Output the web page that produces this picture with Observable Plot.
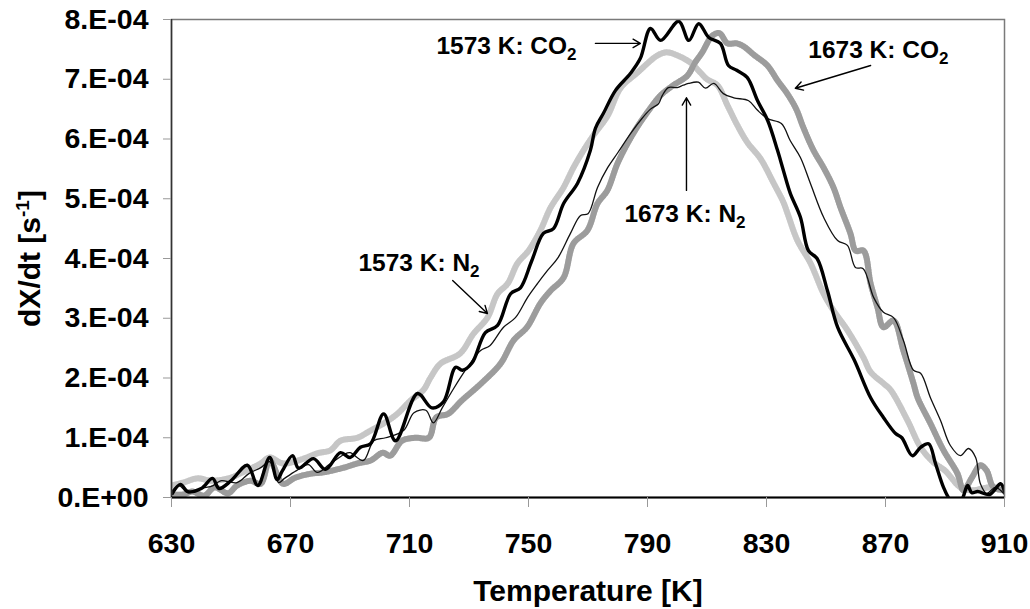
<!DOCTYPE html>
<html>
<head>
<meta charset="utf-8">
<script src="https://cdn.jsdelivr.net/npm/d3@7"></script>
<script src="https://cdn.jsdelivr.net/npm/@observablehq/plot@0.6"></script>
<style>
  html, body { margin: 0; padding: 0; background: #fff; }
  #chart { width: 1030px; height: 609px; }
</style>
</head>
<body>
<div id="chart"></div>
<script>
// Conversion-rate curves dX/dt, values given in units of 1e-4 s^-1.

// 1573 K char, CO2 atmosphere
const co2_1573_T = [630.3, 633, 635.5, 640, 643.8, 646, 650, 655.5, 659, 663, 665.5, 667.3, 670.7, 672.7, 677.7, 681.8, 686.8, 690, 693.5, 696.9, 701.3, 705.3, 712.7, 717.5, 721.4, 725.5, 727.8, 731, 735.5, 739.6, 744, 747.3, 751, 755, 758.4, 761.8, 766.5, 770.8, 772.5, 775.2, 779.2, 784.3, 787.6, 791, 794.4, 800.5, 803.9, 807.2, 810.6, 814.5, 817.2, 820, 823.5, 827, 830.4, 833.7, 835.7, 838, 841.4, 844.1, 847, 850.5, 853.9, 859.5, 865, 869.3, 873.4, 875.5, 879, 881.8, 884.5, 886.8, 889.5, 891.8, 894, 896, 897.6, 899, 901, 905, 908.7, 910];
const co2_1573_rate = [0.07, 0.22, 0.1, 0.15, 0.32, 0.15, 0.28, 0.54, 0.2, 0.67, 0.3, 0.45, 0.7, 0.49, 0.65, 0.47, 0.75, 0.67, 0.84, 0.9, 1.4, 0.95, 1.74, 1.5, 1.6, 2.18, 2.13, 2.25, 2.76, 2.88, 3.41, 3.51, 3.95, 4.42, 4.5, 4.92, 5.26, 5.81, 6.18, 6.43, 6.81, 7.1, 7.35, 7.85, 7.65, 7.97, 7.65, 7.93, 7.7, 7.6, 7.23, 7.15, 7.03, 6.64, 6.31, 5.81, 5.47, 5.09, 4.69, 4.13, 4.0, 3.46, 2.85, 2.3, 1.67, 1.34, 1.07, 1.0, 0.7, 0.84, 0.9, 0.57, 0.17, -0.05, -0.15, 0.0, 0.2, 0.08, 0.1, 0.05, 0.23, 0.1];

// 1573 K char, N2 atmosphere
const n2_1573_T = [630, 634, 638.7, 643.5, 649.8, 653, 660, 663, 667.5, 674.4, 679, 683.4, 686.8, 692.5, 696.9, 701.3, 705.9, 710.3, 714.7, 717, 720.4, 727, 731.5, 736.2, 739.6, 743, 746.3, 750, 754, 757.4, 761.8, 765.1, 768.5, 771.8, 776.6, 780.9, 786.6, 793.4, 796.5, 800, 804.4, 807.8, 810, 813.5, 816.9, 820.2, 823.6, 828, 832.3, 835.7, 837.1, 840.4, 844.8, 849.2, 852.5, 857.2, 862.6, 865, 869.3, 871.7, 877.4, 881.8, 886.1, 890, 895.2, 899, 905, 910];
const n2_1573_rate = [0.2, 0.25, 0.32, 0.28, 0.33, 0.4, 0.57, 0.67, 0.57, 0.65, 0.74, 0.79, 0.95, 1.0, 1.12, 1.24, 1.4, 1.62, 1.8, 2.0, 2.24, 2.41, 2.74, 3.01, 3.41, 3.58, 3.92, 4.13, 4.47, 4.85, 5.19, 5.52, 5.81, 6.06, 6.39, 6.85, 7.11, 7.4, 7.45, 7.4, 7.28, 7.11, 7.0, 6.9, 6.56, 6.23, 5.94, 5.67, 5.27, 4.94, 4.75, 4.3, 3.92, 3.41, 3.13, 2.8, 2.34, 2.1, 1.91, 1.8, 1.29, 0.84, 0.59, 0.45, 0.17, 0.12, 0.17, 0.15];

// 1673 K char, CO2 atmosphere
const co2_1673_T = [630, 634, 637, 641, 644.5, 649, 652, 656.5, 660, 663, 667.5, 671.5, 677, 681, 688, 692.5, 697, 701, 703.5, 707.5, 712, 716.5, 719, 723, 727.5, 733.9, 740.6, 745, 749.5, 754, 757.4, 761.8, 765.1, 769.8, 773.2, 776.5, 780, 785.3, 790, 794.4, 798.7, 803.4, 806, 808.4, 811.8, 814.2, 816.9, 820, 822.3, 826, 830.3, 833.7, 837.1, 840, 842.4, 845.8, 849.2, 852.5, 854.9, 858.2, 860, 862.6, 865, 867.3, 869.3, 872.7, 876, 879.4, 880.8, 885.1, 889.5, 894.2, 896.2, 899, 901.9, 904, 906.3, 910];
const co2_1673_rate = [0.05, 0.05, 0.1, 0.03, 0.17, 0.07, 0.2, 0.28, 0.23, 0.62, 0.23, 0.33, 0.4, 0.42, 0.5, 0.57, 0.62, 0.75, 0.7, 0.95, 1.0, 1.0, 1.34, 1.4, 1.62, 1.9, 2.24, 2.63, 2.85, 3.25, 3.46, 3.68, 4.25, 4.47, 4.92, 5.14, 5.6, 6.1, 6.45, 6.73, 6.9, 7.06, 7.28, 7.45, 7.73, 7.77, 7.6, 7.6, 7.55, 7.4, 7.23, 6.98, 6.75, 6.5, 6.19, 5.81, 5.52, 5.19, 4.85, 4.42, 4.13, 4.13, 3.58, 3.18, 2.85, 2.96, 2.46, 1.91, 1.67, 1.24, 0.79, 0.4, 0.12, 0.33, 0.54, 0.45, 0.17, 0.12];

// 1673 K char, N2 atmosphere
const n2_1673_T = [630, 632.5, 635.5, 640, 644, 646.5, 652, 656, 660, 663, 666, 668, 672, 676, 679, 683, 688, 690, 694.5, 698, 702, 708, 711.5, 715.5, 718, 721, 724.8, 729.5, 733.9, 737, 741.6, 745.6, 749.7, 753, 756.4, 760, 764.1, 767.5, 770, 773.2, 776.6, 780, 784.3, 787.6, 791, 793.7, 795, 797, 800, 802, 803.8, 807.1, 809.5, 812.3, 815.5, 819, 824, 827, 830.4, 835, 838, 841.4, 844.8, 849.2, 853.9, 857.2, 859.9, 862.5, 866, 869.3, 872.7, 876, 879.4, 881.8, 885.1, 888.5, 891.8, 895.2, 897.9, 900.3, 901.9, 904, 907, 910];
const n2_1673_rate = [0.1, 0.2, 0.08, 0.15, 0.2, 0.28, 0.25, 0.4, 0.5, 0.6, 0.25, 0.32, 0.45, 0.55, 0.42, 0.55, 0.72, 0.75, 0.62, 0.95, 1.0, 1.12, 1.42, 1.46, 1.25, 1.5, 1.82, 2.18, 2.46, 2.54, 2.85, 3.01, 3.35, 3.58, 3.8, 4.02, 4.42, 4.72, 4.75, 5.19, 5.52, 5.77, 6.09, 6.31, 6.5, 6.59, 6.73, 6.86, 6.86, 6.9, 6.93, 6.95, 6.85, 6.93, 6.76, 6.69, 6.64, 6.48, 6.34, 6.26, 5.97, 5.69, 5.25, 4.69, 4.3, 4.22, 3.85, 3.83, 3.35, 3.1, 3.01, 2.63, 2.13, 2.08, 1.67, 1.29, 0.87, 0.7, 0.82, 0.67, 0.23, 0.07, 0.17, 0.05];

// Axis ticks
const xTicks = [630, 670, 710, 750, 790, 830, 870, 910];
const yTicks = [0, 1e-4, 2e-4, 3e-4, 4e-4, 5e-4, 6e-4, 7e-4, 8e-4];
const yTickLabels = ["0.E+00", "1.E-04", "2.E-04", "3.E-04", "4.E-04", "5.E-04", "6.E-04", "7.E-04", "8.E-04"];

// Curve callouts (label centre and arrow in data units, rate in 1e-4 s^-1)
const calloutLabels = ["1573 K: CO2", "1673 K: CO2", "1673 K: N2", "1573 K: N2"];
const calloutTextT = [742.6, 867.6, 802.6, 713.2];
const calloutTextRate = [7.56, 7.48, 4.75, 3.92];
const arrowFromT = [772.5, 865, 803.1, 724.5];
const arrowFromRate = [7.6, 7.23, 5.14, 3.63];
const arrowToT = [787.6, 839.7, 803.1, 736.2];
const arrowToRate = [7.6, 6.85, 6.69, 3.08];

const toRows = (T, rate) => T.map((t, i) => ({T: t, rate: rate[i] * 1e-4}));
const co2_1573 = toRows(co2_1573_T, co2_1573_rate);
const n2_1573 = toRows(n2_1573_T, n2_1573_rate);
const co2_1673 = toRows(co2_1673_T, co2_1673_rate);
const n2_1673 = toRows(n2_1673_T, n2_1673_rate);

const callouts = calloutLabels.map((label, i) => ({
  label,
  tx: calloutTextT[i], ty: calloutTextRate[i] * 1e-4,
  x1: arrowFromT[i], y1: arrowFromRate[i] * 1e-4,
  x2: arrowToT[i], y2: arrowToRate[i] * 1e-4
}));

const curve = "catmull-rom";
const lineOpts = {x: "T", y: "rate", curve, clip: true};

const chart = Plot.plot({
  width: 1030,
  height: 609,
  marginLeft: 171,
  marginRight: 26,
  marginTop: 19,
  marginBottom: 112,
  style: {
    fontFamily: "'Liberation Sans', Arial, Helvetica, sans-serif",
    fontWeight: "bold",
    fontSize: "28px",
    background: "#ffffff",
    color: "#000"
  },
  x: {domain: [630, 910]},
  y: {domain: [0, 8e-4]},
  marks: [
    // hatched grey curves: solid base plus fine dashed overlay
    Plot.line(n2_1573, {...lineOpts, stroke: "#e6e6e6", strokeWidth: 6}),
    Plot.line(n2_1573, {...lineOpts, stroke: "#c6c6c6", strokeWidth: 6, strokeDasharray: "1,1.6"}),
    Plot.line(co2_1673, {...lineOpts, stroke: "#cfcfcf", strokeWidth: 6}),
    Plot.line(co2_1673, {...lineOpts, stroke: "#9c9c9c", strokeWidth: 6, strokeDasharray: "1,1.6"}),
    Plot.line(n2_1673, {...lineOpts, stroke: "#111", strokeWidth: 1.3}),
    Plot.line(co2_1573, {...lineOpts, stroke: "#000", strokeWidth: 3.4}),
    Plot.frame({stroke: "#7a7a7a", strokeWidth: 1.5}),
    Plot.ruleX([630], {stroke: "#333", strokeWidth: 1.5}),
    Plot.ruleY([0], {stroke: "#000", strokeWidth: 2}),
    Plot.axisX({
      ticks: xTicks, tickSize: 10, tickPadding: 25, stroke: "#999",
      tickFormat: d => String(d), label: null, fontSize: 28.5
    }),
    Plot.axisY({
      ticks: yTicks, tickSize: 8, tickPadding: 15, stroke: "#999",
      tickFormat: (d) => yTickLabels[yTicks.indexOf(d)], label: null, fontSize: 28.5
    }),
    Plot.text(["Temperature [K]"], {frameAnchor: "bottom", lineAnchor: "middle", textAnchor: "middle", dy: 94, fontSize: 30, fontWeight: "bold"}),
    Plot.text(["dX/dt [s-1]"], {frameAnchor: "left", lineAnchor: "middle", textAnchor: "middle", dx: -141, rotate: -90, fontSize: 30, fontWeight: "bold"}),
    Plot.arrow(callouts, {x1: "x1", y1: "y1", x2: "x2", y2: "y2", stroke: "#000", strokeWidth: 1.4, headLength: 9, insetStart: 0, insetEnd: 0}),
    Plot.text(callouts, {x: "tx", y: "ty", text: "label", fontSize: 24.5, fontWeight: "bold", fill: "#000"})
  ]
});

// chemical subscripts and the unit exponent
d3.select(chart).selectAll("text").each(function () {
  const el = d3.select(this);
  const t = this.textContent;
  const chem = t.match(/^(.*(?:CO|N))2$/);
  if (chem) {
    el.text(chem[1]);
    el.append("tspan").attr("dy", "6").attr("font-size", "17").text("2");
  } else if (t === "dX/dt [s-1]") {
    el.text("dX/dt [s");
    el.append("tspan").attr("dy", "-11").attr("font-size", "19").text("-1");
    el.append("tspan").attr("dy", "11").text("]");
  }
});

document.getElementById("chart").appendChild(chart);
</script>
</body>
</html>
